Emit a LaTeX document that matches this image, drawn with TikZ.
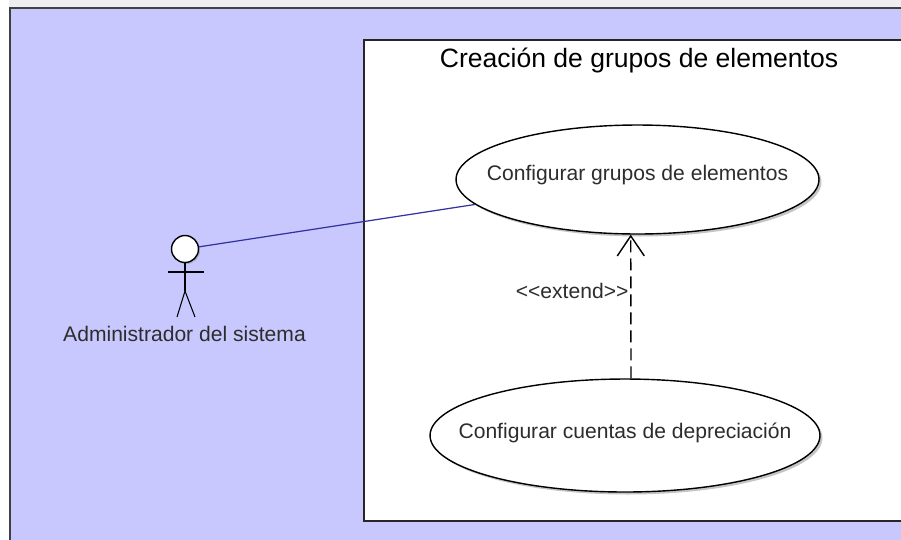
\documentclass[tikz,border=0pt]{standalone}
\usepackage{fontspec}
\setmainfont{Liberation Sans}
\usetikzlibrary{arrows.meta,positioning,shapes.geometric,shadows}
\definecolor{panelblue}{RGB}{200,200,255}
\definecolor{assocblue}{RGB}{50,50,160}
\definecolor{stripgray}{RGB}{238,238,238}
\definecolor{labelgray}{RGB}{45,45,45}
\begin{document}
\begin{tikzpicture}[
    x=0.02cm,y=-0.02cm,
    usecase/.style={ellipse,draw,thick,fill=white,inner sep=0pt,
        drop shadow={shadow xshift=0.05cm,shadow yshift=-0.05cm,opacity=0.45}},
    limb/.style={draw=black,line width=0.6pt},
    assoc/.style={draw=assocblue,line width=0.7pt},
    extendline/.style={-{Straight Barb[length=0.4cm,width=0.54cm]},thick,dash pattern=on 0.24cm off 0.12cm},
    usetext/.style={text=labelgray,font=\fontsize{12}{14}\selectfont}
]
\useasboundingbox (0,0) rectangle (901,539);

% Background and system box
\fill[stripgray] (0,0) rectangle (901,539);
\fill[white] (0,0) rectangle (9,539);
\draw[fill=panelblue,draw=black!75,line width=0.9pt] (10,8) rectangle (905,545);
\node[draw=black!85,fill=white,line width=0.9pt,minimum width=10.8cm,minimum height=9.62cm,inner sep=0pt,anchor=north west] (sistema) at (363,39) {};
\node[font=\fontsize{15.1}{18}\selectfont] (titulo) at (639,60) {Creación de grupos de elementos};

% Use cases
\node[usecase,minimum width=7.26cm,minimum height=2.18cm,
    label={[usetext,name=gruposlabel,yshift=0.09cm]center:Configurar grupos de elementos}] (grupos) at (637.5,179.5) {};
\node[usecase,minimum width=7.8cm,minimum height=2.26cm,
    label={[usetext,name=cuentaslabel,yshift=0.05cm]center:Configurar cuentas de depreciación}] (cuentas) at (625,435.5) {};

% Actor
\node[circle,draw,thick,fill=white,minimum size=0.54cm,inner sep=0pt,drop shadow={shadow xshift=0.03cm,shadow yshift=-0.03cm,opacity=0.4}] (cabeza) at (185,249) {};
\coordinate (cadera) at (185,291);
\coordinate (hombroizq) at (168,272);
\coordinate (hombroder) at (204,272);
\coordinate (pieizq) at (177,317);
\coordinate (pieder) at (195,317);
\draw[limb] (cabeza) -- (cadera);
\draw[limb] (hombroizq) -- (hombroder);
\draw[limb] (pieizq) -- (cadera) -- (pieder);
\node[usetext] (actor) at (184.5,334) {Administrador del sistema};

% Connectors
\draw[assoc] (cabeza) -- (grupos);
\draw[extendline] (cuentas.84) -- node[left,usetext,inner sep=1pt,pos=0.607] (extiende) {<{}<extend>{}>} (grupos.263);

\end{tikzpicture}
\end{document}
